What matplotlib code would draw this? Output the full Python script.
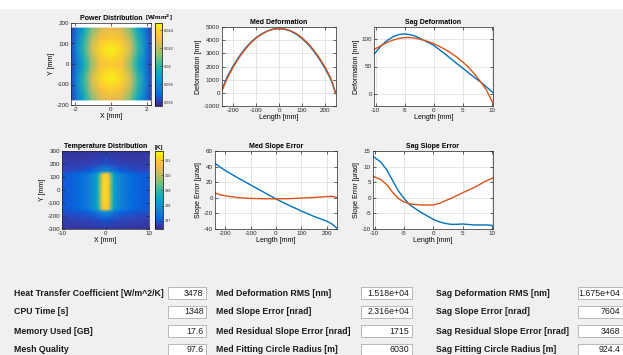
import matplotlib
matplotlib.use('Agg')
import matplotlib.pyplot as plt
from matplotlib.colors import LinearSegmentedColormap
from matplotlib.patches import Rectangle

plt.rcParams['font.family'] = ['Liberation Sans', 'DejaVu Sans']
plt.rcParams['axes.unicode_minus'] = False

# ---- data ----
# power distribution (coarse grid) [W/mm^2]
p_x = [-2.25, -1.9, -1.5, -1.1, -0.6, 0, 0.6, 1.1, 1.5, 1.9, 2.25]
p_y = [-175, -120, -70, 0, 70, 120, 175]
p_val = [
    [0.0360, 0.0375, 0.0391, 0.0409, 0.0424, 0.0428, 0.0424, 0.0409, 0.0391, 0.0375, 0.0360],
    [0.0362, 0.0379, 0.0399, 0.0419, 0.0433, 0.0438, 0.0433, 0.0419, 0.0399, 0.0379, 0.0362],
    [0.0363, 0.0381, 0.0402, 0.0424, 0.0440, 0.0446, 0.0440, 0.0424, 0.0402, 0.0381, 0.0363],
    [0.0361, 0.0376, 0.0393, 0.0413, 0.0431, 0.0437, 0.0431, 0.0413, 0.0393, 0.0376, 0.0361],
    [0.0363, 0.0381, 0.0402, 0.0424, 0.0440, 0.0446, 0.0440, 0.0424, 0.0402, 0.0381, 0.0363],
    [0.0362, 0.0379, 0.0399, 0.0419, 0.0433, 0.0438, 0.0433, 0.0419, 0.0399, 0.0379, 0.0362],
    [0.0360, 0.0375, 0.0391, 0.0409, 0.0424, 0.0428, 0.0424, 0.0409, 0.0391, 0.0375, 0.0360],
]
p_ticks = [0.036, 0.038, 0.04, 0.042, 0.044]
p_ticklabels = ['0.036', '0.038', '0.04', '0.042', '0.044']

# temperature distribution [K]
t_x = [-10, -6, -3.5, -2, -1.3, -0.7, 0, 0.7, 1.3, 2, 3.5, 6, 10]
t_y = [-300, -220, -165, -145, -100, 0, 100, 125, 145, 200, 300]
t_val = [
    [296.6] * 13,
    [296.75, 296.8, 296.85, 296.9, 296.95, 297.0, 297.0, 297.0, 296.95, 296.9, 296.85, 296.8, 296.75],
    [296.9, 297.0, 297.2, 297.5, 297.8, 298.0, 298.1, 298.0, 297.8, 297.5, 297.2, 297.0, 296.9],
    [297.0, 297.2, 297.6, 298.2, 299.2, 300.6, 301.0, 300.6, 299.2, 298.2, 297.6, 297.2, 297.0],
    [297.0, 297.25, 297.7, 298.3, 299.4, 300.8, 301.2, 300.8, 299.4, 298.3, 297.7, 297.25, 297.0],
    [297.0, 297.25, 297.7, 298.3, 299.4, 300.9, 301.3, 300.9, 299.4, 298.3, 297.7, 297.25, 297.0],
    [297.0, 297.25, 297.7, 298.3, 299.4, 300.8, 301.2, 300.8, 299.4, 298.3, 297.7, 297.25, 297.0],
    [297.0, 297.2, 297.6, 298.2, 299.2, 300.6, 301.0, 300.6, 299.2, 298.2, 297.6, 297.2, 297.0],
    [296.8, 296.9, 297.1, 297.4, 297.7, 297.9, 298.0, 297.9, 297.7, 297.4, 297.1, 296.9, 296.8],
    [296.7, 296.7, 296.75, 296.8, 296.85, 296.9, 296.9, 296.9, 296.85, 296.8, 296.75, 296.7, 296.7],
    [296.6] * 13,
]
t_ticks = [297, 298, 299, 300, 301]

# meridional deformation [nm]
med_x = [-245, -225, -200, -175, -150, -125, -100, -75, -50, -25, 0,
         25, 50, 75, 100, 125, 150, 175, 200, 225, 245]
med_def_blue = [340, 1200, 2000, 2700, 3300, 3800, 4180, 4480, 4700, 4840, 4880,
                4830, 4690, 4450, 4120, 3700, 3180, 2560, 1850, 1000, 50]
med_def_orange = [250, 1080, 1900, 2620, 3230, 3740, 4140, 4450, 4690, 4830, 4885,
                  4850, 4720, 4500, 4180, 3770, 3260, 2650, 1940, 1100, -60]

# sagittal deformation [nm]
sag_x = [-10.3, -9, -8, -7, -6, -5, -4, -3, -2, -1, 0, 1, 2, 3, 4, 5, 6, 7, 8, 9, 10.2]
sag_def_blue = [72, 88, 97, 103.5, 107.5, 108.5, 107, 104, 98.5, 93.5, 88,
                80, 72, 63.5, 55, 47, 38.5, 30.5, 22.5, 14, 3]
sag_def_orange = [80.5, 88, 93.5, 97.5, 100.5, 102, 102, 100.5, 98, 95, 91,
                  86, 80.5, 74, 66.5, 58, 48.5, 36.5, 23.5, 9, -16]

# meridional slope error [urad]
med_s_x = [-240, -220, -200, -150, -100, -50, 0, 50, 100, 150, 200, 220, 240]
med_slope_blue = [44, 39.5, 35, 25.5, 16.5, 7.5, -1.5, -9.5, -17, -24, -30, -33.5, -39]
med_slope_orange = [6.4, 4, 2.5, 0.3, -0.8, -1.2, -1.3, -1.1, -0.4, 0.5, 1.6, 1.8, 0.5]

# sagittal slope error [urad]
sag_s_x = [-10.3, -9, -8, -7, -6, -5, -4, -2, 0, 1, 2, 3, 4, 5, 7, 9, 10, 10.2]
sag_slope_blue = [13.3, 11.5, 9.1, 5.7, 2.3, -0.2, -2.3, -4.8, -6.9, -7.7, -8.2, -8.5,
                  -8.5, -8.4, -8.7, -8.7, -8.8, -9.5]
sag_slope_orange = [6.9, 5.9, 4.3, 1.9, -0.2, -1.3, -2.0, -2.3, -2.3, -1.8, -1.0, -0.2,
                    0.7, 1.6, 3.3, 5.4, 6.2, 6.5]

# result fields
labels_1 = ['Heat Transfer Coefficient [W/m^2/K]', 'CPU Time [s]', 'Memory Used [GB]', 'Mesh Quality']
values_1 = ['3478', '1348', '17.6', '97.6']
labels_2 = ['Med Deformation RMS [nm]', 'Med Slope Error [nrad]',
            'Med Residual Slope Error [nrad]', 'Med Fitting Circle Radius [m]']
values_2 = ['1.518e+04', '2.316e+04', '1715', '6030']
labels_3 = ['Sag Deformation RMS [nm]', 'Sag Slope Error [nrad]',
            'Sag Residual Slope Error [nrad]', 'Sag Fitting Circle Radius [m]']
values_3 = ['1.675e+04', '7604', '3468', '924.4']

parula_data = [
    (0.2081, 0.1663, 0.5292), (0.1959, 0.2645, 0.7279), (0.0117, 0.3875, 0.8820),
    (0.0498, 0.4586, 0.8641), (0.0793, 0.5200, 0.8312), (0.0343, 0.5966, 0.8199),
    (0.0228, 0.6535, 0.7768), (0.0843, 0.6928, 0.7062), (0.2178, 0.7250, 0.6193),
    (0.3953, 0.7459, 0.5244), (0.5709, 0.7485, 0.4494), (0.7184, 0.7411, 0.3905),
    (0.8507, 0.7299, 0.3360), (0.9739, 0.7314, 0.2666), (0.9955, 0.7861, 0.1967),
    (0.9626, 0.8705, 0.1309), (0.9763, 0.9831, 0.0538)]
parula = LinearSegmentedColormap.from_list('parula', parula_data)

BLUE = '#0072BD'
ORANGE = '#D95319'
W, H = 623, 355


def rect(l, t, r, b):
    return [l / W, 1 - b / H, (r - l) / W, (b - t) / H]


def style(ax, grid=True):
    ax.tick_params(direction='in', length=2, width=0.5, labelsize=4.5, pad=1.5,
                   colors='#262626', top=True, right=True)
    for s in ax.spines.values():
        s.set_linewidth(0.5)
        s.set_color('#262626')
    if grid:
        ax.grid(True, color='#dcdcdc', lw=0.5)
        ax.set_axisbelow(True)


fig = plt.figure(figsize=(6.23, 3.55), dpi=100)
fig.patch.set_facecolor('#f0f0f0')
fig.add_artist(Rectangle((0, 1 - 9 / H), 1, 9 / H, transform=fig.transFigure,
                         facecolor='white', edgecolor='none', zorder=0))

# power distribution
ax = fig.add_axes(rect(71, 23, 151, 105))
im = ax.pcolormesh(p_x, p_y, p_val, shading='gouraud', cmap=parula, vmin=0.03556, vmax=0.04478)
ax.set_xlim(-2.25, 2.25)
ax.set_ylim(-200, 200)
ax.set_xticks([-2, 0, 2])
ax.set_yticks([-200, -100, 0, 100, 200])
style(ax, grid=False)
ax.set_title('Power Distribution', fontsize=5, fontweight='bold', pad=2)
ax.set_xlabel('X [mm]', fontsize=5, labelpad=1)
ax.set_ylabel('Y [mm]', fontsize=5, labelpad=1)
cax = fig.add_axes(rect(155, 23, 162, 106))
cb = fig.colorbar(im, cax=cax)
cb.set_ticks(p_ticks, labels=p_ticklabels)
cax.tick_params(labelsize=2.8, length=1.5, width=0.4, direction='in', pad=1.5, colors='#262626')
cb.outline.set_linewidth(0.5)
cax.set_title('[W/mm$^\\mathbf{2}$]', fontsize=4.5, fontweight='bold', pad=1.5)

# temperature distribution
ax = fig.add_axes(rect(62, 151, 149, 229))
im = ax.pcolormesh(t_x, t_y, t_val, shading='gouraud', cmap=parula, vmin=296.45, vmax=301.6)
ax.set_xlim(-10, 10)
ax.set_ylim(-300, 300)
ax.set_xticks([-10, 0, 10])
ax.set_yticks([-300, -200, -100, 0, 100, 200, 300])
style(ax, grid=False)
ax.set_title('Temperature Distribution', fontsize=5, fontweight='bold', pad=2)
ax.set_xlabel('X [mm]', fontsize=5, labelpad=1)
ax.set_ylabel('Y [mm]', fontsize=5, labelpad=1)
cax = fig.add_axes(rect(155, 151, 163, 229))
cb = fig.colorbar(im, cax=cax)
cb.set_ticks(t_ticks)
cax.tick_params(labelsize=2.8, length=1.5, width=0.4, direction='in', pad=1.5, colors='#262626')
cb.outline.set_linewidth(0.5)
cax.set_title('[K]', fontsize=4.5, fontweight='bold', pad=1.5)

# med deformation
ax = fig.add_axes(rect(222, 27, 336, 106))
ax.plot(med_x, med_def_blue, color=BLUE, lw=1.0)
ax.plot(med_x, med_def_orange, color=ORANGE, lw=1.0)
ax.set_xlim(-247, 247)
ax.set_ylim(-1000, 5000)
ax.set_xticks([-200, -100, 0, 100, 200])
ax.set_yticks(range(-1000, 5001, 1000))
style(ax)
ax.set_title('Med Deformation', fontsize=5, fontweight='bold', pad=2)
ax.set_xlabel('Length [mm]', fontsize=5, labelpad=1)
ax.set_ylabel('Deformation [nm]', fontsize=5, labelpad=1)

# sag deformation
ax = fig.add_axes(rect(374, 27, 493, 106))
ax.plot(sag_x, sag_def_blue, color=BLUE, lw=1.0)
ax.plot(sag_x, sag_def_orange, color=ORANGE, lw=1.0)
ax.set_xlim(-10.3, 10.2)
ax.set_ylim(-21, 121)
ax.set_xticks([-10, -5, 0, 5, 10])
ax.set_yticks([0, 50, 100])
style(ax)
ax.set_title('Sag Deformation', fontsize=5, fontweight='bold', pad=2)
ax.set_xlabel('Length [mm]', fontsize=5, labelpad=1)
ax.set_ylabel('Deformation [nm]', fontsize=5, labelpad=1)

# med slope error
ax = fig.add_axes(rect(215, 151, 337, 229))
ax.plot(med_s_x, med_slope_blue, color=BLUE, lw=1.0)
ax.plot(med_s_x, med_slope_orange, color=ORANGE, lw=1.0)
ax.set_xlim(-240, 240)
ax.set_ylim(-40, 60)
ax.set_xticks([-200, -100, 0, 100, 200])
ax.set_yticks(range(-40, 61, 20))
style(ax)
ax.set_title('Med Slope Error', fontsize=5, fontweight='bold', pad=2)
ax.set_xlabel('Length [mm]', fontsize=5, labelpad=1)
ax.set_ylabel('Slope Error [\u03bcrad]', fontsize=5, labelpad=1)

# sag slope error
ax = fig.add_axes(rect(373, 151, 493, 229))
ax.plot(sag_s_x, sag_slope_blue, color=BLUE, lw=1.0)
ax.plot(sag_s_x, sag_slope_orange, color=ORANGE, lw=1.0)
ax.set_xlim(-10.3, 10.2)
ax.set_ylim(-10, 15)
ax.set_xticks([-10, -5, 0, 5, 10])
ax.set_yticks(range(-10, 16, 5))
style(ax)
ax.set_title('Sag Slope Error', fontsize=5, fontweight='bold', pad=2)
ax.set_xlabel('Length [mm]', fontsize=5, labelpad=1)
ax.set_ylabel('Slope Error [\u03bcrad]', fontsize=5, labelpad=1)

# result fields
rows_y = [293, 312, 331, 350]
columns = [(labels_1, values_1, 14, 168, 206),
           (labels_2, values_2, 216, 361, 412),
           (labels_3, values_3, 436, 578, 626)]
for labels, values, lx, bl, br in columns:
    for lab, val, y in zip(labels, values, rows_y):
        fig.text(lx / W, 1 - y / H, lab, fontsize=6.3, fontweight='bold',
                 color='#1a1a1a', ha='left', va='center')
        fig.add_artist(Rectangle((bl / W, 1 - (y + 6) / H), (br - bl) / W, 12 / H,
                                 transform=fig.transFigure, facecolor='white',
                                 edgecolor='#adadad', lw=0.6))
        fig.text((min(br, 623) - 2.5) / W, 1 - y / H, val, fontsize=6.3, color='#1a1a1a',
                 ha='right', va='center')

fig.savefig('out.png', dpi=100, facecolor=fig.get_facecolor())
